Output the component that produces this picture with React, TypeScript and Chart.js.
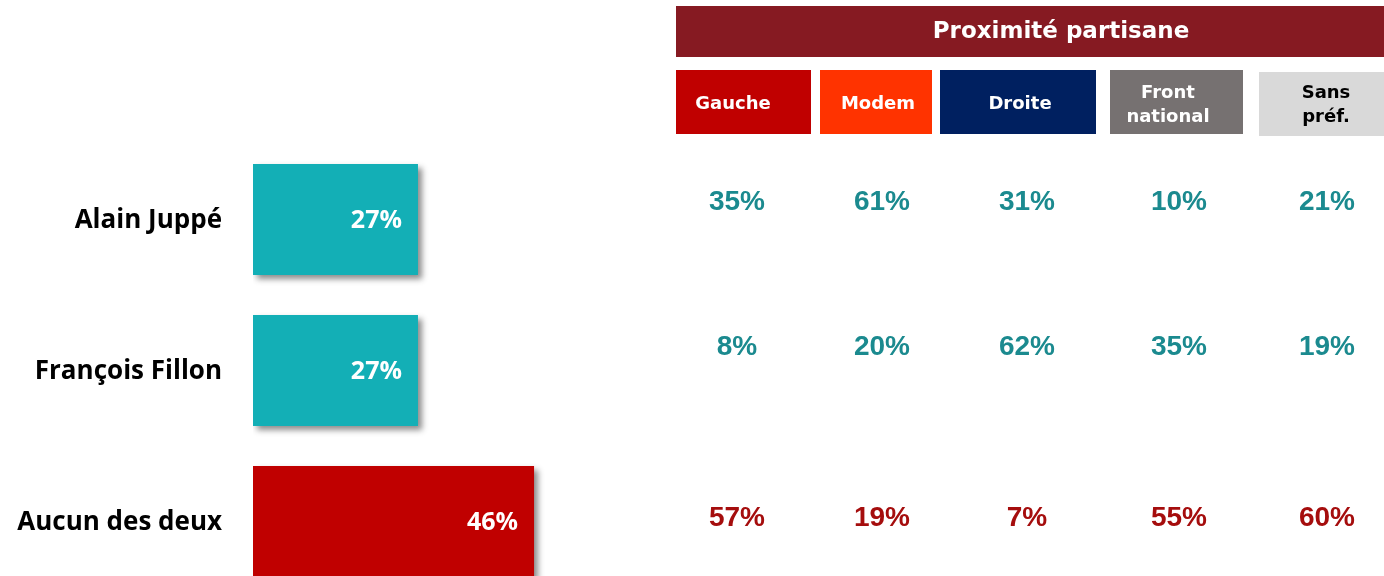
import React, { useEffect, useRef } from "react";
import { Chart, registerables } from "chart.js";

Chart.register(...registerables);

const candidates = ["Alain Juppé", "François Fillon", "Aucun des deux"];
const totals = [27, 27, 46];
const barColors = ["#13AFB6", "#13AFB6", "#C00000"];

const tableTitle = "Proximité partisane";
const parties = [["Gauche"], ["Modem"], ["Droite"], ["Front", "national"], ["Sans", "préf."]];
const gauche = [35, 8, 57];
const modem = [61, 20, 19];
const droite = [31, 62, 7];
const frontNational = [10, 35, 55];
const sansPref = [21, 19, 60];
const partyValues = [gauche, modem, droite, frontNational, sansPref];

// layout/style constants
const partyBoxes = [
  { x0: 676, x1: 811, y0: 70, y1: 134, fill: "#C00000", text: "#FFFFFF", tx: 733 },
  { x0: 820, x1: 932, y0: 70, y1: 134, fill: "#FF3300", text: "#FFFFFF", tx: 878 },
  { x0: 940, x1: 1096, y0: 70, y1: 134, fill: "#002060", text: "#FFFFFF", tx: 1020 },
  { x0: 1110, x1: 1243, y0: 70, y1: 134, fill: "#767171", text: "#FFFFFF", tx: 1168 },
  { x0: 1259, x1: 1384, y0: 72, y1: 136, fill: "#D9D9D9", text: "#000000", tx: 1326 },
];
const valueColX = [737, 882, 1027, 1179, 1327];
const valueRowY = [201, 346, 517];
const valueRowColors = ["#1B8A8F", "#1B8A8F", "#A50D0D"];

const shadowPlugin = {
  id: "barShadow",
  beforeDatasetsDraw(chart: any) {
    const ctx = chart.ctx;
    ctx.save();
    ctx.shadowColor = "rgba(0,0,0,0.45)";
    ctx.shadowBlur = 6;
    ctx.shadowOffsetX = 4;
    ctx.shadowOffsetY = 4;
  },
  afterDatasetsDraw(chart: any) {
    chart.ctx.restore();
  },
};

const overlayPlugin = {
  id: "overlay",
  afterDraw(chart: any) {
    const ctx = chart.ctx;
    const yScale = chart.scales.y;
    const meta = chart.getDatasetMeta(0);
    ctx.save();
    // category labels
    ctx.font = "bold 26px 'Open Sans'";
    ctx.fillStyle = "#000000";
    ctx.textAlign = "right";
    ctx.textBaseline = "middle";
    candidates.forEach((c, i) => {
      ctx.fillText(c, 222, yScale.getPixelForValue(i) + 1);
    });
    // bar value labels
    ctx.font = "bold 25px 'Open Sans'";
    ctx.fillStyle = "#FFFFFF";
    meta.data.forEach((bar: any, i: number) => {
      ctx.fillText(totals[i] + "%", bar.x - 16, bar.y + 1);
    });
    // table header
    ctx.fillStyle = "#861A22";
    ctx.fillRect(676, 6, 1384 - 676, 51);
    ctx.fillStyle = "#FFFFFF";
    ctx.textAlign = "center";
    ctx.font = "bold 23px 'DejaVu Sans'";
    ctx.fillText(tableTitle, 1061, 32);
    // party boxes
    ctx.font = "bold 18px 'DejaVu Sans'";
    partyBoxes.forEach((b, i) => {
      ctx.fillStyle = b.fill;
      ctx.fillRect(b.x0, b.y0, b.x1 - b.x0, b.y1 - b.y0);
      ctx.fillStyle = b.text;
      const lines = parties[i];
      if (lines.length === 1) {
        ctx.fillText(lines[0], b.tx, 104);
      } else {
        ctx.fillText(lines[0], b.tx, 93);
        ctx.fillText(lines[1], b.tx, 117);
      }
    });
    // values
    ctx.font = "bold 28px 'Liberation Sans'";
    partyValues.forEach((vals, col) => {
      vals.forEach((v, row) => {
        ctx.fillStyle = valueRowColors[row];
        ctx.fillText(v + "%", valueColX[col], valueRowY[row] + 1);
      });
    });
    ctx.restore();
  },
};

export default function App() {
  const ref = useRef<HTMLCanvasElement>(null);
  useEffect(() => {
    if (!ref.current) return;
    const chart = new Chart(ref.current, {
      type: "bar",
      data: {
        labels: candidates,
        datasets: [
          {
            data: totals,
            backgroundColor: barColors,
            borderWidth: 0,
            categoryPercentage: 1,
            barPercentage: 0.735,
          },
        ],
      },
      options: {
        indexAxis: "y",
        animation: false,
        responsive: false,
        events: [],
        layout: { padding: { left: 253, right: 520, top: 144, bottom: 3 } },
        plugins: { legend: { display: false }, tooltip: { enabled: false } },
        scales: {
          x: { display: false, min: 0, max: 100, grid: { display: false } },
          y: { display: false, grid: { display: false } },
        },
      },
      plugins: [shadowPlugin, overlayPlugin],
    });
    return () => chart.destroy();
  }, []);
  return (
    <div style={{ position: "absolute", top: 0, left: 0, width: 1384, height: 576, overflow: "hidden", background: "#fff" }}>
      <canvas ref={ref} width={1384} height={600} style={{ display: "block" }} />
    </div>
  );
}
